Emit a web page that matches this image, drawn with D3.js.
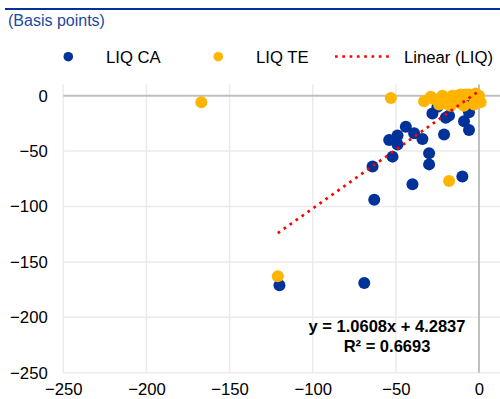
<!DOCTYPE html>
<html><head><meta charset="utf-8">
<script src="https://cdn.jsdelivr.net/npm/d3@7"></script>
<style>body{margin:0;background:#fff}svg{display:block;font-family:"Liberation Sans",Arial,sans-serif}</style>
</head><body><svg id="c" width="500" height="399"></svg>
<script>
// ---- data ----
const liqCA_x = [-120,-69,-63,-64,-40,-10,-30,-30,-52,-54,-49,-49,-44,-39,-34,-21,-28,-18,-9,-6,-6,-20,-16,-5,-25,-12];
const liqCA_y = [-171,-169,-94,-64,-80,-73,-62,-52,-55,-40,-36,-44,-28,-34,-39,-35,-16,-18,-23,-31,-15,-20,-5,-5,-10,-3];
const liqTE_x = [-167,-53,-121,-18,-33,-29,-22,-24,-16,-11,-6,0,1,-9,-17,-20,-3,-13,-11,-8,-27,-2];
const liqTE_y = [-6,-2,-163,-77,-5,-1,0,-8,0,1,1,0,-6,-9,-9,-7,-8,0,-7,1,-3,2];
const xTicks = [-250,-200,-150,-100,-50,0];
const yTicks = [0,-50,-100,-150,-200,-250];
const trendSlope = 1.0608, trendIntercept = 4.2837;
const trendXRange = [-121, 0];
const legendLabels = ["LIQ CA","LIQ TE","Linear (LIQ)"];
const titleText = "(Basis points)";
const eqLines = ["y = 1.0608x + 4.2837","R\u00B2 = 0.6693"];

const colCA = "#003299", colTE = "#FFB400", colTrend = "#FF0000";

const svg = d3.select("#c");
const x = d3.scaleLinear().domain([-250,13]).range([63.3, 500.6]);
const y = d3.scaleLinear().domain([-250,10]).range([372.7, 84.6]);

// top rule and title
svg.append("line").attr("x1",5).attr("x2",500).attr("y1",9).attr("y2",9)
  .attr("stroke",colCA).attr("stroke-width",2);
svg.append("text").attr("x",8).attr("y",26).attr("font-size",16).attr("fill","#1a49a0").text(titleText);

// gridlines
const g = svg.append("g");
g.selectAll(".vg").data(xTicks.filter(d=>d!==0)).join("line")
  .attr("x1",d=>x(d)).attr("x2",d=>x(d)).attr("y1",y(10)).attr("y2",y(-250))
  .attr("stroke","#ebebeb").attr("stroke-width",1.5);
g.selectAll(".hg").data(yTicks.filter(d=>d!==0)).join("line")
  .attr("x1",x(-250)).attr("x2",x(13)).attr("y1",d=>y(d)).attr("y2",d=>y(d))
  .attr("stroke","#ebebeb").attr("stroke-width",1.5);
// zero axes
g.append("line").attr("x1",x(0)).attr("x2",x(0)).attr("y1",y(10)).attr("y2",y(-250))
  .attr("stroke","#bfbfbf").attr("stroke-width",2);
g.append("line").attr("x1",x(-250)).attr("x2",x(13)).attr("y1",y(0)).attr("y2",y(0))
  .attr("stroke","#bfbfbf").attr("stroke-width",2);

// axes labels
const ax = svg.append("g").attr("transform",`translate(0,${y(-250)})`)
  .call(d3.axisBottom(x).tickValues(xTicks).tickSize(0).tickPadding(10.5));
const ay = svg.append("g").attr("transform",`translate(${x(-250)},0)`)
  .call(d3.axisLeft(y).tickValues(yTicks).tickSize(0).tickPadding(15.6));
[ax,ay].forEach(a=>{
  a.select(".domain").remove();
  a.selectAll("text").attr("font-size",16.7).attr("fill","#000")
    .attr("font-family",'"Liberation Sans",Arial,sans-serif');
});

// points
const ca = liqCA_x.map((v,i)=>({x:v,y:liqCA_y[i]}));
const te = liqTE_x.map((v,i)=>({x:v,y:liqTE_y[i]}));
svg.append("g").selectAll("circle").data(ca).join("circle")
  .attr("cx",d=>x(d.x)).attr("cy",d=>y(d.y)).attr("r",6).attr("fill",colCA);
svg.append("g").selectAll("circle").data(te).join("circle")
  .attr("cx",d=>x(d.x)).attr("cy",d=>y(d.y)).attr("r",6).attr("fill",colTE);

// trendline
const line = d3.line().x(d=>x(d)).y(d=>y(trendSlope*d+trendIntercept));
svg.append("path").datum(trendXRange).attr("d",line).attr("fill","none")
  .attr("stroke",colTrend).attr("stroke-width",2.7).attr("stroke-dasharray","2.7 4.6");

// equation
eqLines.forEach((t,i)=>{
  svg.append("text").attr("x",387).attr("y",332+i*20).attr("text-anchor","middle")
    .attr("font-size",16.5).attr("font-weight","bold").attr("fill","#000").text(t);
});

// legend
const lg = svg.append("g").attr("font-size",16.7);
lg.append("circle").attr("cx",68.3).attr("cy",56.7).attr("r",4.8).attr("fill",colCA);
lg.append("text").attr("x",106).attr("y",62.7).text(legendLabels[0]);
lg.append("circle").attr("cx",218.3).attr("cy",56.7).attr("r",4.8).attr("fill",colTE);
lg.append("text").attr("x",256).attr("y",62.7).text(legendLabels[1]);
lg.append("line").attr("x1",335).attr("x2",389).attr("y1",56.5).attr("y2",56.5)
  .attr("stroke",colTrend).attr("stroke-width",2.7).attr("stroke-dasharray","2.7 4.6");
lg.append("text").attr("x",404).attr("y",62.7).text(legendLabels[2]);
</script></body></html>
